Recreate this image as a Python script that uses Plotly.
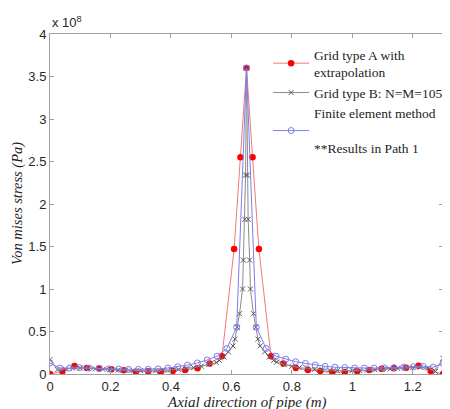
import plotly.graph_objects as go

# values in units of 1e8 Pa
red_x = [0, 0.041, 0.081, 0.122, 0.163, 0.203, 0.244, 0.284, 0.325, 0.366, 0.406, 0.447,
         0.488, 0.528, 0.569, 0.609, 0.630, 0.650, 0.670, 0.691, 0.731, 0.772, 0.813, 0.853,
         0.894, 0.934, 0.975, 1.016, 1.056, 1.097, 1.138, 1.178, 1.219, 1.259, 1.300]
red_y = [0.0, 0.03, 0.094, 0.07, 0.067, 0.055, 0.043, 0.027, 0.031, 0.02, 0.035, 0.047,
         0.067, 0.125, 0.21, 1.47, 2.55, 3.6, 2.55, 1.47, 0.21, 0.125, 0.07, 0.047,
         0.035, 0.02, 0.023, 0.031, 0.047, 0.063, 0.067, 0.074, 0.098, 0.035, 0.0]

gray_x = [0.0, 0.025, 0.05, 0.075, 0.1, 0.125, 0.15, 0.175, 0.2, 0.225, 0.25, 0.275, 0.3,
          0.325, 0.35, 0.375, 0.4, 0.425, 0.45, 0.475, 0.5, 0.525, 0.55, 0.56, 0.575, 0.59,
          0.605, 0.612, 0.619, 0.627, 0.637, 0.6395, 0.6445, 0.647, 0.65, 0.653, 0.6555,
          0.6605, 0.663, 0.673, 0.681, 0.688, 0.695, 0.71, 0.725, 0.74, 0.75, 0.775, 0.8,
          0.825, 0.85, 0.875, 0.9, 0.925, 0.95, 0.975, 1.0, 1.025, 1.05, 1.075, 1.1, 1.125,
          1.15, 1.175, 1.2, 1.225, 1.25, 1.275, 1.3]
gray_y = [0.17, 0.05, 0.06, 0.07, 0.07, 0.065, 0.06, 0.055, 0.05, 0.045, 0.045, 0.04, 0.04,
          0.04, 0.04, 0.045, 0.05, 0.055, 0.065, 0.075, 0.09, 0.11, 0.135, 0.16, 0.2, 0.26,
          0.33, 0.41, 0.55, 0.71, 1.0, 1.34, 1.82, 2.34, 3.6, 2.34, 1.82,
          1.34, 1.0, 0.71, 0.55, 0.41, 0.33, 0.26, 0.2, 0.16, 0.14, 0.11, 0.09,
          0.075, 0.065, 0.055, 0.05, 0.045, 0.04, 0.04, 0.04, 0.04, 0.045, 0.05, 0.055, 0.06,
          0.065, 0.07, 0.075, 0.08, 0.07, 0.03, 0.185]

blue_x = [round(i * 0.0325, 4) for i in range(41)]
blue_y = [0.13, 0.07, 0.07, 0.075, 0.07, 0.065, 0.06, 0.058, 0.055, 0.055, 0.055, 0.06,
          0.07, 0.085, 0.105, 0.13, 0.165, 0.21, 0.30, 0.55, 3.6, 0.55, 0.30, 0.21, 0.175,
          0.145, 0.125, 0.105, 0.09, 0.08, 0.075, 0.07, 0.07, 0.07, 0.072, 0.075, 0.08,
          0.085, 0.09, 0.08, 0.125]

x_ticks = [0, 0.2, 0.4, 0.6, 0.8, 1, 1.2]
y_ticks = [0, 0.5, 1, 1.5, 2, 2.5, 3, 3.5, 4]

serif = "Liberation Serif"
sans = "Liberation Sans"

fig = go.Figure()
fig.add_trace(go.Scatter(
    x=red_x, y=red_y, mode="lines+markers",
    name="Grid type A with<br>extrapolation",
    line=dict(color="rgb(242,120,120)", width=1),
    marker=dict(color="rgb(255,0,0)", size=6.5, symbol="circle"),
))
fig.add_trace(go.Scatter(
    x=gray_x, y=gray_y, mode="lines+markers",
    name="Grid type B: N=M=105",
    line=dict(color="rgb(140,140,140)", width=1),
    marker=dict(color="rgb(90,90,90)", size=5, symbol="x-thin",
                line=dict(color="rgb(90,90,90)", width=1)),
))
fig.add_trace(go.Scatter(
    x=blue_x, y=blue_y, mode="lines+markers",
    name="Finite element method<br> <br>**Results in Path 1",
    line=dict(color="rgb(125,125,240)", width=1),
    marker=dict(color="rgb(125,125,235)", size=6, symbol="circle-open",
                line=dict(color="rgb(125,125,235)", width=1)),
))

axis_common = dict(
    showline=True, linecolor="rgb(160,160,160)", linewidth=1, mirror="ticks",
    ticks="inside", ticklen=4, tickcolor="rgb(160,160,160)",
    showgrid=False, zeroline=False,
    tickfont=dict(family=sans, size=13, color="rgb(40,40,40)"),
)

fig.update_layout(
    width=442, height=401,
    margin=dict(l=42, r=2, t=26, b=35),
    paper_bgcolor="white", plot_bgcolor="white",
    showlegend=True,
    legend=dict(
        x=0.555, y=0.985, xanchor="left", yanchor="top",
        bgcolor="rgba(255,255,255,1)", borderwidth=0,
        font=dict(family=serif, size=13.5, color="rgb(30,30,30)"),
        tracegroupgap=0, itemwidth=36,
    ),
    xaxis=dict(range=[0, 1.3], tickvals=x_ticks,
               ticktext=[str(v) for v in x_ticks], **axis_common),
    yaxis=dict(range=[0, 4], tickvals=y_ticks,
               ticktext=[f"{v:g}" for v in y_ticks], **axis_common),
    annotations=[
        dict(text="x 10<sup>8</sup>", xref="paper", yref="paper", x=0, y=1,
             xanchor="left", yanchor="bottom", yshift=2, showarrow=False,
             font=dict(family=sans, size=13, color="rgb(40,40,40)")),
        dict(text="<i>Von mises stress (Pa)</i>", xref="paper", yref="paper",
             x=0, y=0.5, xanchor="center", yanchor="middle", xshift=-33,
             textangle=-90, showarrow=False,
             font=dict(family=serif, size=14.5, color="rgb(30,30,30)")),
        dict(text="<i>Axial direction of pipe (m)</i>", xref="paper", yref="paper",
             x=0.5, y=0, xanchor="center", yanchor="middle", yshift=-28,
             showarrow=False,
             font=dict(family=serif, size=15, color="rgb(30,30,30)")),
    ],
)

fig.write_html("out.html")
